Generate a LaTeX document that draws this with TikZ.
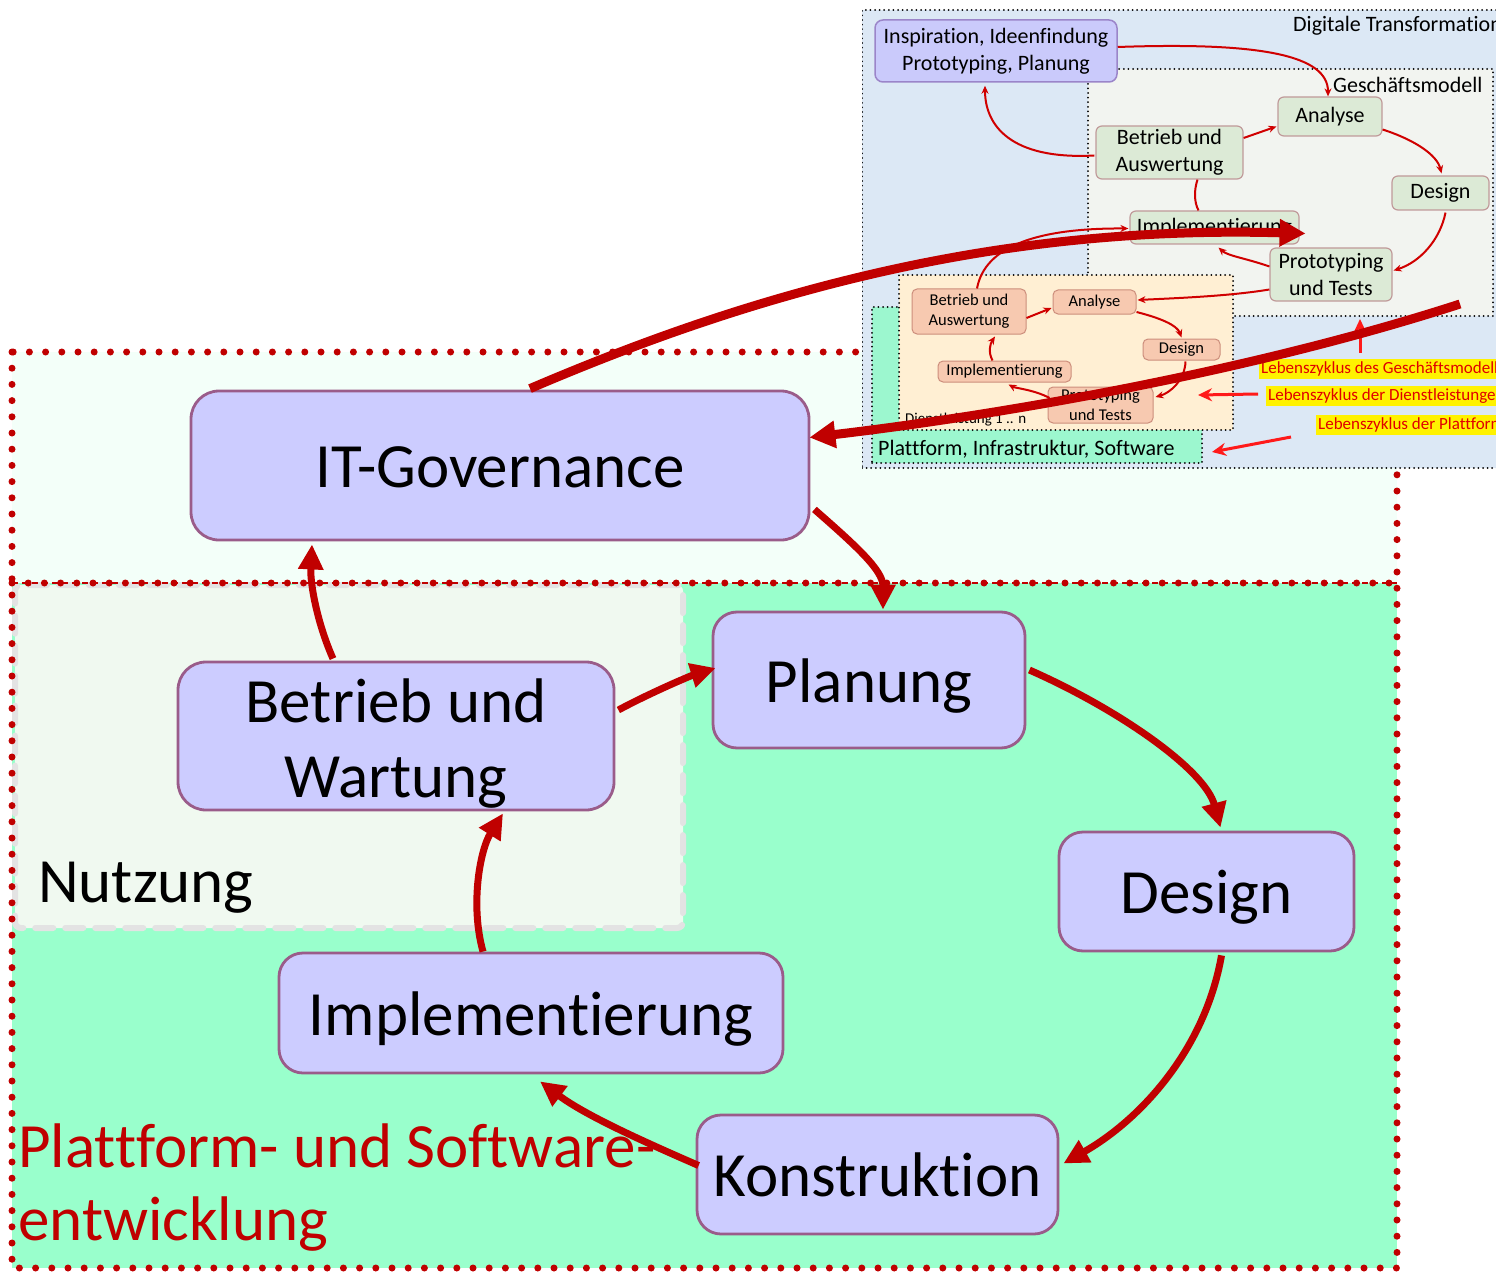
\documentclass[tikz,border=0pt]{standalone}
\usepackage{fontspec}
\setmainfont{Carlito}[Ligatures=NoCommon]
\usetikzlibrary{arrows.meta,calc}
\newcommand{\myfs}[2]{\fontsize{#1pt}{#2pt}\selectfont}
\definecolor{dred}{HTML}{C00000}
\definecolor{mint}{HTML}{F3FFF9}
\definecolor{aqua}{HTML}{99FFCC}
\definecolor{nutzfill}{HTML}{F0F9F0}
\definecolor{nutzdash}{HTML}{E3E3E3}
\definecolor{boxfill}{HTML}{CCCCFF}
\definecolor{boxdraw}{HTML}{9A5C8A}
\definecolor{insetblue}{HTML}{DCE8F5}
\definecolor{gmregion}{HTML}{F2F4F0}
\definecolor{gmfill}{HTML}{DCEAD6}
\definecolor{gmdraw}{HTML}{C09A9A}
\definecolor{dlregion}{HTML}{FFEFD3}
\definecolor{dlfill}{HTML}{F7C9B0}
\definecolor{dldraw}{HTML}{CC8E7C}
\definecolor{pfgreen}{HTML}{9CF7CF}
\definecolor{inspfill}{HTML}{CACAFB}
\definecolor{inspdraw}{HTML}{9B85C9}
\definecolor{arrred}{HTML}{D00000}
\definecolor{brightred}{HTML}{FF1A1A}
\definecolor{labred}{HTML}{E00000}
\begin{document}
\begin{tikzpicture}[x=1pt,y=-1pt,
  mainbox/.style={draw=boxdraw, line width=2.8pt, fill=boxfill, rounded corners=24pt, align=center, inner sep=0pt, font=\myfs{63}{75}},
  one/.style={text height=44pt, text depth=0pt},
  bigarr/.style={draw=dred, line width=7pt, -{Triangle[length=25pt,width=24pt]}},
  longarr/.style={draw=dred, line width=9pt, -{Triangle[length=26pt,width=26pt]}},
  region/.style={draw=black, line width=2pt, dash pattern=on 0pt off 4.6pt, line cap=round, inner sep=0pt},
  gmnode/.style={draw=gmdraw, line width=1.2pt, fill=gmfill, rounded corners=6pt, align=center, inner sep=0pt, font=\myfs{22}{27}},
  dlnode/.style={draw=dldraw, line width=1pt, fill=dlfill, rounded corners=5pt, align=center, inner sep=0pt, font=\myfs{16.5}{20}},
  thinarr/.style={draw=arrred, line width=2pt, -{Stealth[length=8pt,width=7pt]}},
  thinline/.style={draw=arrred, line width=2pt},
  brightarr/.style={draw=brightred, line width=3pt, -{Stealth[length=14pt,width=13pt]}},
  ylab/.style={fill=yellow, text=labred, font=\myfs{17}{20}, inner xsep=2pt, inner ysep=0pt, minimum height=20pt, anchor=west},
  plain/.style={anchor=base west, inner sep=0pt},
]
\useasboundingbox (0,0) rectangle (1496,1273);
\fill[white] (0,0) rectangle (1496,1273);

% main regions
\fill[mint] (12,352) rectangle (1397,583);
\fill[aqua] (12,583) rectangle (1397,1268);
\node[draw=nutzdash, line width=6pt, dash pattern=on 18pt off 12pt, line cap=round, fill=nutzfill, rounded corners=6pt, minimum width=668pt, minimum height=343pt, inner sep=0pt] (nutzbox) at (349,756.5) {};
\draw[dred, line width=1.2pt, dash pattern=on 6pt off 4pt] (12,583) -- (1397,583);
\draw[dred, line width=7pt, dash pattern=on 0pt off 16.2pt, line cap=round] (12,583) -- (1397,583);
\draw[dred, line width=7pt, dash pattern=on 0pt off 16.2pt, line cap=round] (12,352) rectangle (1397,1268);

\node[plain, font=\myfs{63}{75}] (nutz) at (38,902) {Nutzung};
\node[plain, font=\myfs{63}{75}, text=dred] (ptitleA) at (18,1167) {Plattform- und Software-};
\node[plain, font=\myfs{63}{75}, text=dred] (ptitleB) at (18,1240) {entwicklung};

% main nodes
\node[mainbox, one, rounded corners=28pt, minimum width=618pt, minimum height=149pt] (itg) at (500,465.5) {IT-Governance};
\node[mainbox, rounded corners=28pt, minimum width=436pt, minimum height=148pt] (betrieb) at (396,736) {\rule{0pt}{58pt}Betrieb und\\Wartung};
\node[mainbox, one, minimum width=312pt, minimum height=136pt] (planung) at (869,680) {Planung};
\node[mainbox, one, minimum width=295pt, minimum height=119pt] (design) at (1206.5,891.5) {Design};
\node[mainbox, one, minimum width=504pt, minimum height=120pt] (impl) at (531,1013) {Implementierung};
\node[mainbox, one, minimum width=361pt, minimum height=119pt] (konst) at (877.5,1174.5) {Konstruktion};

% main arrows
\draw[bigarr] ($(itg.south east)+(4,-32)$) .. controls (855,545) and (883,570) .. ($(planung.north)+(14,-1)$);
\draw[bigarr] ($(betrieb.north)+(-63,-2)$) .. controls (318,625) and (310,585) .. ($(itg.south)+(-188,3)$);
\draw[bigarr] ($(betrieb.east)+(3,-26)$) .. controls (650,693) and (690,676) .. ($(planung.west)+(4,-12)$);
\draw[bigarr] ($(planung.east)+(3,-10)$) .. controls (1120,710) and (1205,770) .. ($(design.north)+(14,-3)$);
\draw[bigarr] ($(design.south)+(15,3)$) .. controls (1205,1050) and (1140,1120) .. ($(konst.east)+(4,-11)$);
\draw[bigarr] ($(konst.west)+(3,-9)$) .. controls (640,1140) and (585,1115) .. ($(impl.south)+(9,7)$);
\draw[bigarr] ($(impl.north)+(-48,0)$) .. controls (470,905) and (480,850) .. ($(betrieb.south)+(107,2)$);

% inset
\begin{scope}
\clip (862,6) rectangle (1496,472);
\node[region, fill=insetblue, minimum width=640pt, minimum height=458pt] (inset) at (1182,239) {};
\node[region, fill=gmregion, minimum width=405pt, minimum height=247pt] (gmbox) at (1290.5,192.5) {};
\node[region, fill=pfgreen, minimum width=330pt, minimum height=156pt] (pfbox) at (1037,385) {};
\node[region, fill=dlregion, minimum width=334pt, minimum height=155pt] (dlbox) at (1066,352.5) {};

\node[plain, font=\myfs{22}{27}] (dtlabel) at (1293,32) {Digitale Transformation};
\node[plain, font=\myfs{22}{27}] (gmlabel) at (1333,93) {Geschäftsmodell};
\node[plain, font=\myfs{22}{27}] (pflabel) at (878,455) {Plattform, Infrastruktur, Software};
\node[plain, font=\myfs{15}{18}] (dllabel) at (905,423) {Dienstleistung 1 .. n};

\node[draw=inspdraw, line width=1.5pt, fill=inspfill, rounded corners=8pt, align=center, inner sep=0pt, minimum width=242pt, minimum height=62pt, font=\myfs{22}{27}] (insp) at (996,51) {Inspiration, Ideenfindung\\Prototyping, Planung};

\node[gmnode, minimum width=104pt, minimum height=39pt] (gmanalyse) at (1330,116.5) {Analyse};
\node[gmnode, minimum width=147pt, minimum height=53pt] (gmbetrieb) at (1169.5,152.5) {Betrieb und\\Auswertung};
\node[gmnode, minimum width=97pt, minimum height=34pt] (gmdesign) at (1440.5,193) {Design};
\node[gmnode, minimum width=169pt, minimum height=33pt] (gmimpl) at (1214.5,227.5) {Implementierung};
\node[gmnode, minimum width=122pt, minimum height=53pt] (gmproto) at (1331,274.5) {Prototyping\\und Tests};

\node[dlnode, minimum width=114pt, minimum height=45pt] (dlbetrieb) at (969,311.5) {Betrieb und\\Auswertung};
\node[dlnode, minimum width=83pt, minimum height=24pt] (dlanalyse) at (1094.5,302) {Analyse};
\node[dlnode, minimum width=77pt, minimum height=21pt] (dldesign) at (1181.5,349.5) {Design};
\node[dlnode, minimum width=133pt, minimum height=21pt] (dlimpl) at (1004.5,371.5) {Implementierung};
\node[dlnode, minimum width=105pt, minimum height=36pt] (dlproto) at (1100.5,405) {Prototyping\\und Tests};

% inset arrows (Geschaeftsmodell)
\draw[thinarr] ($(gmbetrieb.east)+(0,-14.5)$) -- ($(gmanalyse.west)+(-1,10)$);
\draw[thinarr] ($(gmanalyse.east)+(0,13)$) .. controls (1415,140) and (1437,155) .. ($(gmdesign.north)+(1,-2)$);
\draw[thinarr] ($(gmdesign.south)+(5,2)$) .. controls (1440,240) and (1420,262) .. ($(gmproto.east)+(1,-4)$);
\draw[thinarr] ($(gmproto.west)+(0,-8)$) .. controls (1245,258) and (1228,256) .. ($(gmimpl.south)+(4,3)$);
\draw[thinline] ($(gmimpl.north)+(-16,0)$) .. controls (1194,202) and (1194,190) .. ($(gmbetrieb.south)+(28,0)$);
\draw[thinarr] ($(gmbetrieb.west)+(-1,3)$) .. controls (1010,160) and (985,125) .. ($(insp.south)+(-11,3)$);
\draw[thinarr] ($(insp.east)+(0,-4)$) .. controls (1260,42) and (1328,55) .. ($(gmanalyse.north)+(-2,0)$);
\draw[thinarr] ($(gmproto.west)+(0,15)$) .. controls (1230,296) and (1180,298) .. ($(dlanalyse.east)+(1,-2)$);
\draw[thinarr] ($(dlbetrieb.north)+(8,0)$) .. controls (985,245) and (1040,228) .. ($(gmimpl.west)+(-1,1)$);

% inset arrows (Dienstleistung)
\draw[thinarr] ($(dlbetrieb.east)+(0,6.5)$) -- ($(dlanalyse.west)+(-1,6)$);
\draw[thinarr] ($(dlanalyse.east)+(0,10)$) .. controls (1160,318) and (1177,325) .. ($(dldesign.north)+(0,-1)$);
\draw[thinarr] ($(dldesign.south)+(4,1)$) .. controls (1185,380) and (1170,393) .. ($(dlproto.east)+(2,-8)$);
\draw[thinarr] ($(dlproto.west)+(2,-7)$) .. controls (1035,390) and (1015,388) .. ($(dlimpl.south)+(4,2)$);
\draw[thinarr] ($(dlimpl.north)+(-12,0)$) .. controls (988,352) and (990,344) .. ($(dlbetrieb.south)+(26,2)$);

% yellow labels
\node[ylab] (ylabA) at (1259,369) {Lebenszyklus des Geschäftsmodells};
\node[ylab] (ylabB) at (1266,396) {Lebenszyklus der Dienstleistungen};
\node[ylab] (ylabC) at (1316,424.5) {Lebenszyklus der Plattform};

\draw[brightarr] ($(ylabA.north west)+(101,-6)$) -- ($(gmbox.south)+(69.5,2)$);
\draw[brightarr] ($(ylabB.west)+(-8,-2)$) -- ($(dlbox.east)+(-36,42.5)$);
\draw[brightarr] ($(ylabC.west)+(-25,12.5)$) -- ($(pfbox.south east)+(9,-12)$);
\end{scope}

% long arrows over the inset
\coordinate (src) at (1460,304);
\draw[longarr] ($(itg.north)+(30,-1)$) .. controls (760,290) and (1000,225) .. ($(gmimpl.east)+(6,6)$);
\draw[longarr] (src) .. controls (1250,372) and (1000,415) .. ($(itg.east)+(-1,-28)$);
\end{tikzpicture}
\end{document}
